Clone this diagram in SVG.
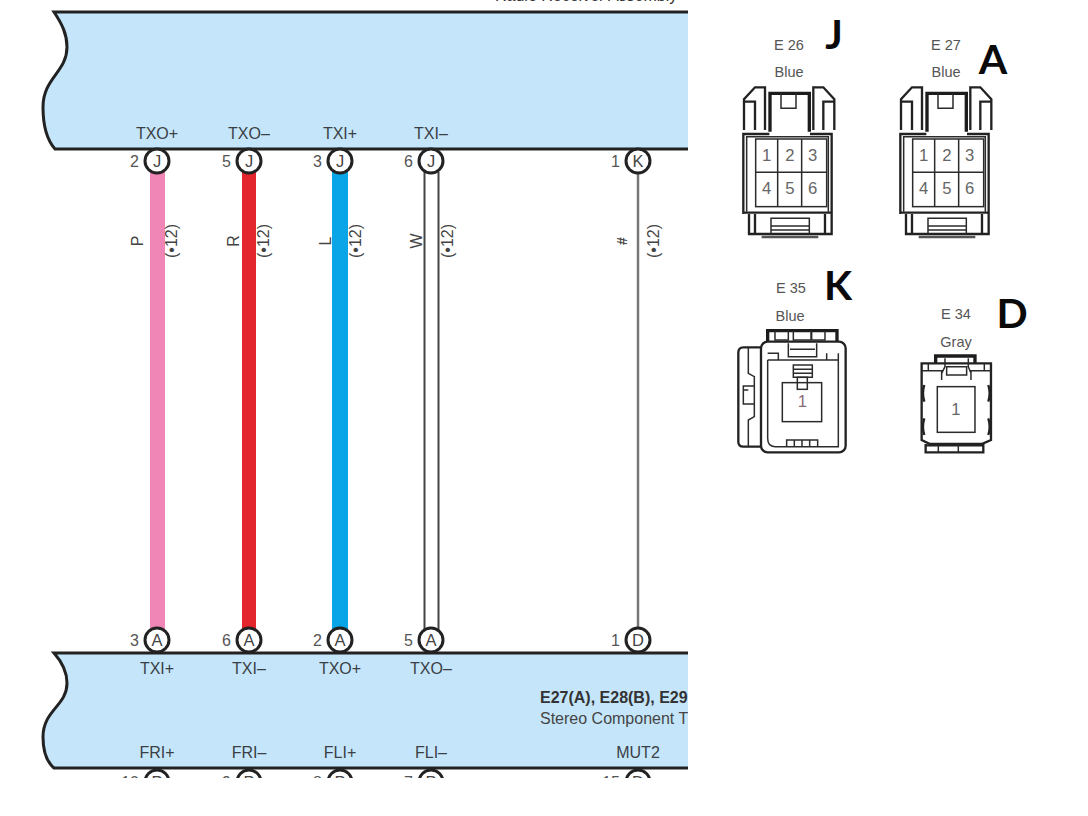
<svg xmlns="http://www.w3.org/2000/svg" width="1088" height="816" viewBox="0 0 1088 816">
<style>
text{font-family:"Liberation Sans",Arial,sans-serif;fill:#3a3f45}
.l{font-size:16px;text-anchor:middle}
.n{font-size:16px;text-anchor:end;fill:#555}
.c{font-size:16.500px;text-anchor:middle;fill:#444}
.r{font-size:16px;text-anchor:middle;fill:#444}
.cap{font-size:14.500px;text-anchor:middle;fill:#555}
.big{font-family:Lato,"Noto Sans",sans-serif;font-size:41px;font-weight:700;fill:#0a0a0a;text-anchor:middle}
.panel{fill:#c5e6fa}
.edge{fill:none;stroke:#222;stroke-width:3}
.pin{fill:#fff;stroke:#222;stroke-width:3}
.d{fill:none;stroke:#222;stroke-width:7}
.t{fill:none;stroke:#2b2b2b;stroke-width:4.500}
.h{fill:none;stroke:#1c1c1c;stroke-width:10}
.dg{font-size:50px;text-anchor:middle;fill:#666}
</style>
<defs>
<clipPath id="view"><rect x="0" y="0" width="688" height="778"/></clipPath>
<g id="six">
<path class="d" d="M42 360V268L75 232H105V360M42 275H75V360"/>
<path class="h" d="M120 365V250H238V365"/>
<path class="t" d="M153 250V295H198V250"/>
<path class="d" d="M250 360V232H280L313 268V360M313 275H280V360"/>
<path class="d" d="M40 612V372H118M240 372H305V612"/>
<path class="t" d="M50 605V380H295V605"/>
<rect class="t" x="77" y="387" width="213" height="203"/>
<path class="t" d="M143 387V590M215 387V590M77 487H290"/>
<path class="d" d="M40 608H305"/>
<path class="d" d="M57 612V672H305V612M75 612V672M285 612V672"/>
<path class="t" d="M123 672V625H238V672M123 648H238M123 660H238"/>
<path d="M95 681H265" stroke="#555" stroke-width="7" fill="none"/>
<text class="dg" x="110" y="452">1</text><text class="dg" x="180" y="452">2</text><text class="dg" x="248" y="452">3</text>
<text class="dg" x="110" y="553">4</text><text class="dg" x="180" y="553">5</text><text class="dg" x="248" y="553">6</text>
</g>
</defs>

<g clip-path="url(#view)">
<g id="top-panel">
<path class="panel" d="M54 12C62 24 67 34 67 47C67 72 43 78 43 107C43 128 47 140 55 149H700V12Z"/>
<path class="edge" d="M700 12H54C62 24 67 34 67 47C67 72 43 78 43 107C43 128 47 140 55 149H700"/>
<text x="495" y="1" style="font-size:16px;fill:#333">Radio Receiver Assembly</text>
<text class="l" x="157" y="139">TXO+</text>
<text class="l" x="249" y="139">TXO–</text>
<text class="l" x="340" y="139">TXI+</text>
<text class="l" x="431" y="139">TXI–</text>
</g>
<g id="bottom-panel">
<path class="panel" d="M54 653C62 662 67 672 67 683C67 706 43 710 43 737C43 752 47 762 54 768H700V653Z"/>
<path class="edge" d="M700 653H54C62 662 67 672 67 683C67 706 43 710 43 737C43 752 47 762 54 768H700"/>
<text class="l" x="157" y="674">TXI+</text>
<text class="l" x="249" y="674">TXI–</text>
<text class="l" x="340" y="674">TXO+</text>
<text class="l" x="431" y="674">TXO–</text>
<text x="540" y="703" style="font-size:16px;font-weight:700;fill:#333">E27(A), E28(B), E29</text>
<text x="540" y="724" style="font-size:16px;fill:#444">Stereo Component T</text>
<text class="l" x="157" y="758">FRI+</text>
<text class="l" x="249" y="758">FRI–</text>
<text class="l" x="340" y="758">FLI+</text>
<text class="l" x="431" y="758">FLI–</text>
<text class="l" x="638" y="758">MUT2</text>
</g>
<g id="connectors">
<rect x="150" y="172" width="15" height="458" fill="#ef86b6"/>
<rect x="242" y="172" width="14" height="458" fill="#e3262e"/>
<rect x="332" y="172" width="16" height="458" fill="#0aa5e6"/>
<path d="M424.500 172V630M438.500 172V630" fill="none" stroke="#444" stroke-width="2"/>
<path d="M638 172V630" fill="none" stroke="#777" stroke-width="2.500"/>
</g>
<g id="wire-labels">
<text class="r" transform="translate(143 241) rotate(-90)">P</text>
<text class="r" transform="translate(177 241) rotate(-90)">(•12)</text>
<text class="r" transform="translate(239 241) rotate(-90)">R</text>
<text class="r" transform="translate(269 241) rotate(-90)">(•12)</text>
<text class="r" transform="translate(331 241) rotate(-90)">L</text>
<text class="r" transform="translate(361 241) rotate(-90)">(•12)</text>
<text class="r" transform="translate(422 241) rotate(-90)">W</text>
<text class="r" transform="translate(453 241) rotate(-90)">(•12)</text>
<text class="r" transform="translate(627 241) rotate(-90)" style="font-size:14px;font-weight:700">#</text>
<text class="r" transform="translate(659 241) rotate(-90)">(•12)</text>
</g>
<g id="pin-top-2"><circle class="pin" cx="157" cy="161" r="12"/><text class="c" x="157" y="167">J</text><text class="n" x="139" y="167">2</text></g>
<g id="pin-top-5"><circle class="pin" cx="249" cy="161" r="12"/><text class="c" x="249" y="167">J</text><text class="n" x="231" y="167">5</text></g>
<g id="pin-top-3"><circle class="pin" cx="340" cy="161" r="12"/><text class="c" x="340" y="167">J</text><text class="n" x="322" y="167">3</text></g>
<g id="pin-top-6"><circle class="pin" cx="431" cy="161" r="12"/><text class="c" x="431" y="167">J</text><text class="n" x="413" y="167">6</text></g>
<g id="pin-top-1"><circle class="pin" cx="638" cy="161" r="12"/><text class="c" x="638" y="167">K</text><text class="n" x="620" y="167">1</text></g>
<g id="pin-mid-3"><circle class="pin" cx="157" cy="640" r="12"/><text class="c" x="157" y="646">A</text><text class="n" x="139" y="646">3</text></g>
<g id="pin-mid-6"><circle class="pin" cx="249" cy="640" r="12"/><text class="c" x="249" y="646">A</text><text class="n" x="231" y="646">6</text></g>
<g id="pin-mid-2"><circle class="pin" cx="340" cy="640" r="12"/><text class="c" x="340" y="646">A</text><text class="n" x="322" y="646">2</text></g>
<g id="pin-mid-5"><circle class="pin" cx="431" cy="640" r="12"/><text class="c" x="431" y="646">A</text><text class="n" x="413" y="646">5</text></g>
<g id="pin-mid-1"><circle class="pin" cx="638" cy="640" r="12"/><text class="c" x="638" y="646">D</text><text class="n" x="620" y="646">1</text></g>
<g id="pin-low-10"><circle class="pin" cx="157" cy="782" r="12"/><text class="c" x="157" y="788">P</text><text class="n" x="139" y="788">10</text></g>
<g id="pin-low-9"><circle class="pin" cx="249" cy="782" r="12"/><text class="c" x="249" y="788">P</text><text class="n" x="231" y="788">9</text></g>
<g id="pin-low-8"><circle class="pin" cx="340" cy="782" r="12"/><text class="c" x="340" y="788">P</text><text class="n" x="322" y="788">8</text></g>
<g id="pin-low-7"><circle class="pin" cx="431" cy="782" r="12"/><text class="c" x="431" y="788">P</text><text class="n" x="413" y="788">7</text></g>
<g id="pin-low-15"><circle class="pin" cx="638" cy="782" r="12"/><text class="c" x="638" y="788">D</text><text class="n" x="620" y="788">15</text></g>
</g>

<g id="e26">
<text class="cap" x="789" y="50">E 26</text><text class="cap" x="789" y="77">Blue</text>
<use href="#six" transform="translate(730 10) scale(.3333)"/>
<text class="big" x="834" y="49">J</text>
</g>
<g id="e27">
<text class="cap" x="946" y="50">E 27</text><text class="cap" x="946" y="77">Blue</text>
<use href="#six" transform="translate(887 10) scale(.3333)"/>
<text class="big" x="993" y="74">A</text>
</g>
<g id="e35">
<text class="cap" x="791" y="293">E 35</text><text class="cap" x="790" y="321">Blue</text>
<g transform="translate(725 260) scale(.3333)">
<path class="h" d="M128 245V212H336V245"/>
<path class="t" d="M150 212V240H190V212M260 212V240H300V212M205 212V240H258V212"/>
<rect class="d" x="108" y="245" width="254" height="332" rx="20"/>
<path class="d" d="M108 262H55Q40 262 40 278V545Q40 560 55 560H108"/>
<path class="t" d="M70 262V340L88 350V470L70 480V560M88 378H55V432H88M70 390H55"/>
<path class="t" d="M128 300V535Q128 560 150 560H340V300H128M128 280H160V300M340 280V300M305 280V300H275M190 250V290H275V250M195 268H270"/>
<path class="t" d="M205 315H262V352H205ZM205 328H262M205 340H262"/>
<rect class="t" x="172" y="368" width="118" height="117"/>
<rect class="t" x="217" y="352" width="30" height="36" fill="#fff"/>
<text class="dg" x="232" y="440" style="fill:#8a6a7a">1</text>
<path class="t" d="M185 560V540H278V560M208 540V560M231 540V560M254 540V560"/>
</g>
<text class="big" x="838" y="300">K</text>
</g>
<g id="e34">
<text class="cap" x="956" y="319">E 34</text><text class="cap" x="956" y="347">Gray</text>
<g transform="translate(725 260) scale(.3333)">
<path class="h" d="M632 310V288H750V310"/>
<path class="d" d="M590 310H798V540L770 552H615L590 540Z"/>
<path class="t" d="M590 332H650V360M798 332H738V360M660 295V320L650 340M730 295V320L738 340M665 320H725V345H665Z"/>
<path class="t" d="M610 332V310M778 332V310"/>
<rect class="t" x="637" y="380" width="113" height="137"/>
<path class="d" d="M598 375Q590 400 598 425M790 375Q798 400 790 425M598 475Q590 500 598 525M790 475Q798 500 790 525"/>
<path class="d" d="M602 552V577H775V552M602 556H775"/>
<path class="t" d="M640 556V577M700 556V577"/>
<text class="dg" x="693" y="465">1</text>
</g>
<text class="big" x="1012" y="328">D</text>
</g>
</svg>
